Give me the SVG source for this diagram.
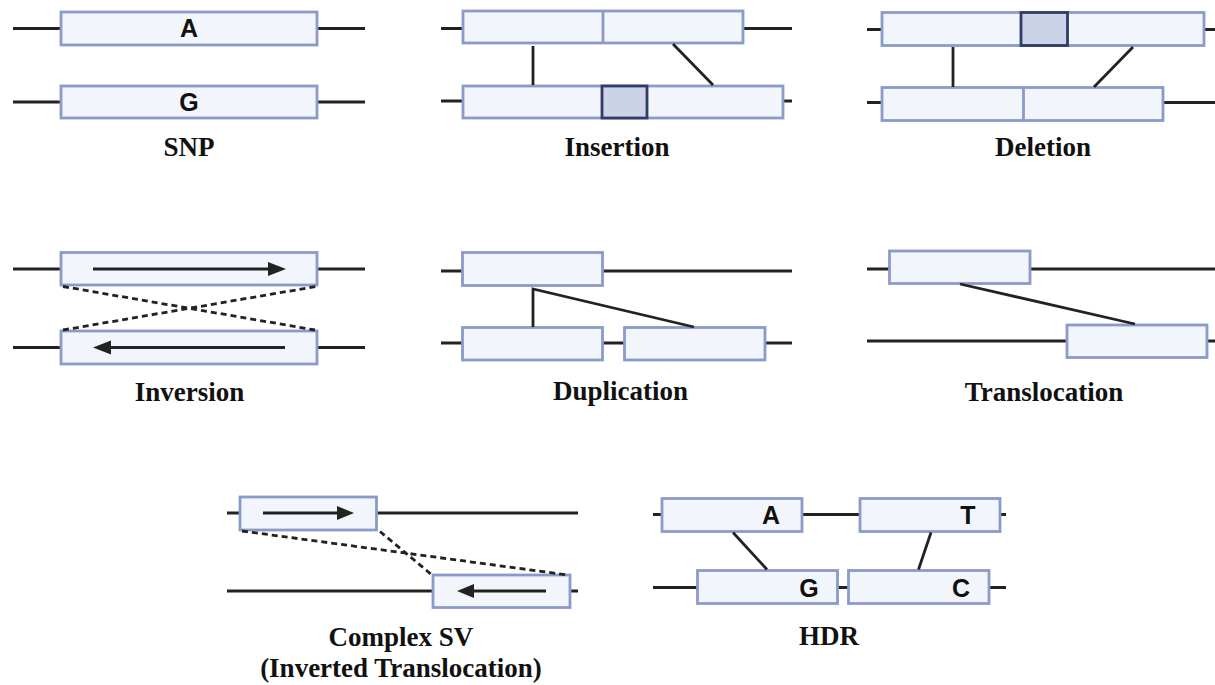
<svg xmlns="http://www.w3.org/2000/svg" width="1215" height="685" viewBox="0 0 1215 685">
<style>
.ln{stroke:#222;stroke-width:2.8;fill:none}
.cn{stroke:#222;stroke-width:2.8;fill:none}
.ds{stroke:#222;stroke-width:2.8;fill:none;stroke-dasharray:6 4}
.bx{fill:#f2f5fb;stroke:#8b9bc8;stroke-width:2.8}
.dv{stroke:#8b9bc8;stroke-width:2.8}
.dk{fill:#ccd3e8;stroke:#2e3d66;stroke-width:2.8}
.lb{font-family:"Liberation Serif","Times New Roman",serif;font-weight:bold;font-size:27px;fill:#111;text-anchor:middle}
.nt{font-family:"Liberation Sans",Arial,sans-serif;font-weight:bold;font-size:25px;fill:#111;text-anchor:middle}
.ar{fill:#222}
</style>
<rect width="1215" height="685" fill="#fff"/>

<g id="snp">
<line class="ln" x1="13" y1="28.5" x2="365" y2="28.5"/>
<rect class="bx" x="61" y="12" width="256" height="33"/>
<text class="nt" x="189" y="37">A</text>
<line class="ln" x1="13" y1="102" x2="365" y2="102"/>
<rect class="bx" x="61" y="86" width="256" height="32"/>
<text class="nt" x="189" y="110.5">G</text>
<text class="lb" x="189" y="156">SNP</text>
</g>

<g id="insertion">
<line class="ln" x1="441" y1="28.5" x2="792" y2="28.5"/>
<rect class="bx" x="463" y="11" width="280" height="32"/>
<line class="dv" x1="603" y1="11" x2="603" y2="43"/>
<line class="ln" x1="441" y1="101" x2="792" y2="101"/>
<rect class="bx" x="463" y="86" width="320" height="32"/>
<rect class="dk" x="602" y="86" width="45" height="32"/>
<text class="lb" x="617" y="156">Insertion</text>
</g>

<g id="deletion">
<line class="ln" x1="867" y1="29.5" x2="1215" y2="29.5"/>
<rect class="bx" x="882" y="12.5" width="322" height="33"/>
<rect class="dk" x="1021" y="12.5" width="46.5" height="33"/>
<line class="ln" x1="867" y1="102.5" x2="1215" y2="102.5"/>
<rect class="bx" x="882" y="87.5" width="281" height="33"/>
<line class="dv" x1="1023.5" y1="87.5" x2="1023.5" y2="120.5"/>
<text class="lb" x="1043" y="156">Deletion</text>
</g>

<g id="inversion">
<line class="ln" x1="13" y1="269" x2="365" y2="269"/>
<rect class="bx" x="61" y="252.5" width="256" height="32.5"/>
<line class="ln" x1="93" y1="269" x2="272" y2="269"/>
<polygon class="ar" points="268,262 286,269 268,276"/>
<line class="ln" x1="13" y1="347.5" x2="365" y2="347.5"/>
<rect class="bx" x="61" y="331" width="256" height="33"/>
<line class="ln" x1="285" y1="347.5" x2="106" y2="347.5"/>
<polygon class="ar" points="111,340.5 93,347.5 111,354.5"/>
<text class="lb" x="189.5" y="401">Inversion</text>
</g>

<g id="duplication">
<line class="ln" x1="441" y1="271" x2="792" y2="271"/>
<rect class="bx" x="462.5" y="252.5" width="140" height="33"/>
<line class="ln" x1="441" y1="343" x2="792" y2="343"/>
<rect class="bx" x="462.5" y="327.5" width="140" height="32.5"/>
<rect class="bx" x="624.5" y="327.5" width="140.5" height="32.5"/>
<text class="lb" x="620.5" y="400">Duplication</text>
</g>

<g id="translocation">
<line class="ln" x1="867" y1="269" x2="1215" y2="269"/>
<rect class="bx" x="889.5" y="251" width="140.5" height="32.5"/>
<line class="ln" x1="867" y1="341" x2="1215" y2="341"/>
<rect class="bx" x="1067" y="325" width="140" height="32.5"/>
<text class="lb" x="1044" y="401">Translocation</text>
</g>

<g id="complex-sv">
<line class="ln" x1="227" y1="513" x2="578" y2="513"/>
<rect class="bx" x="240" y="497" width="136.5" height="33"/>
<line class="ln" x1="263" y1="513" x2="340" y2="513"/>
<polygon class="ar" points="337,506 354,513 337,520"/>
<line class="ln" x1="227" y1="591" x2="578" y2="591"/>
<rect class="bx" x="433" y="575" width="137" height="32.5"/>
<line class="ln" x1="546" y1="591" x2="470" y2="591"/>
<polygon class="ar" points="474,584 457,591 474,598"/>
<text class="lb" x="401" y="646">Complex SV</text>
<text class="lb" x="401" y="677">(Inverted Translocation)</text>
</g>

<g id="hdr">
<line class="ln" x1="653" y1="514.5" x2="1006" y2="514.5"/>
<rect class="bx" x="662" y="498.5" width="140" height="33"/>
<text class="nt" x="771" y="524">A</text>
<rect class="bx" x="860" y="498.5" width="140" height="33"/>
<text class="nt" x="968" y="524">T</text>
<line class="ln" x1="653" y1="587.5" x2="1006" y2="587.5"/>
<rect class="bx" x="697.5" y="570.5" width="140" height="33"/>
<text class="nt" x="809" y="596.5">G</text>
<rect class="bx" x="848.5" y="570.5" width="140.5" height="33"/>
<text class="nt" x="961" y="596.5">C</text>
<text class="lb" x="829" y="645">HDR</text>
</g>

<g id="connectors">
<line class="cn" x1="533" y1="46" x2="533" y2="85"/>
<line class="cn" x1="673" y1="44" x2="713" y2="85"/>
<line class="cn" x1="953" y1="47" x2="953" y2="87"/>
<line class="cn" x1="1133" y1="47" x2="1094" y2="87"/>
<line class="ds" x1="63" y1="286.5" x2="315" y2="330"/>
<line class="ds" x1="63" y1="330" x2="316" y2="286.5"/>
<polyline class="cn" points="533,327 533,289 694,327"/>
<line class="cn" x1="960" y1="284" x2="1135" y2="324"/>
<line class="ds" x1="242" y1="531" x2="568" y2="575"/>
<line class="ds" x1="380" y1="531.5" x2="432" y2="575"/>
<line class="cn" x1="733" y1="532.5" x2="767" y2="569.5"/>
<line class="cn" x1="931" y1="532.5" x2="918.5" y2="569.5"/>
</g>
</svg>
